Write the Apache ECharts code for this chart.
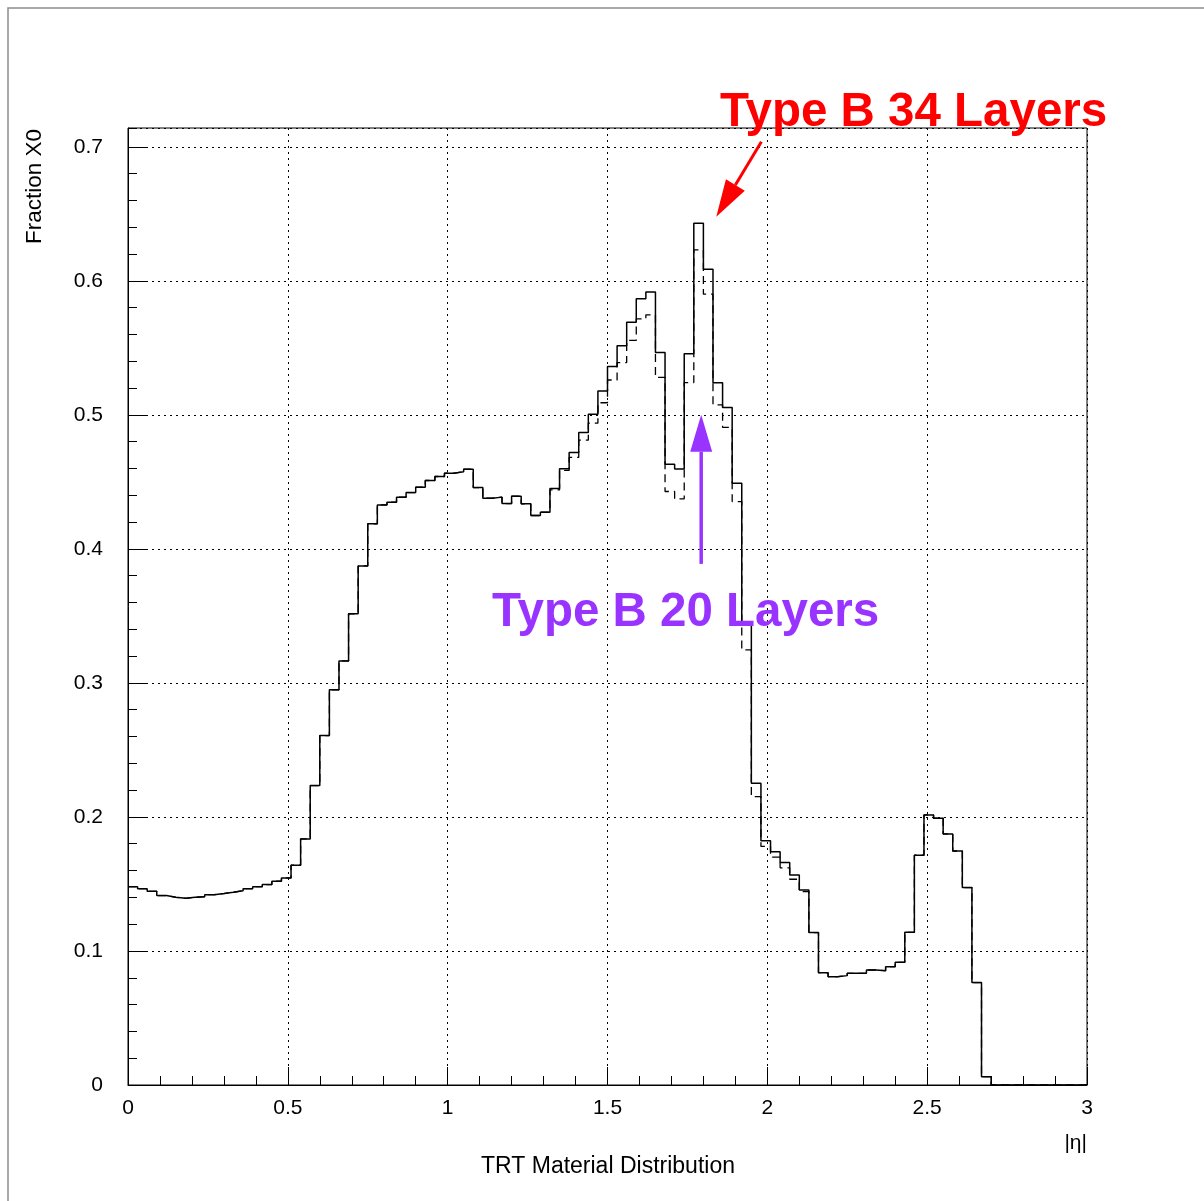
<!DOCTYPE html>
<html>
<head>
<meta charset="utf-8">
<title>TRT Material Distribution</title>
<script src="https://cdn.jsdelivr.net/npm/echarts@6/dist/echarts.min.js"></script>
<style>
  html, body { margin: 0; padding: 0; background: #ffffff; }
  #chart { width: 1204px; height: 1201px; }
</style>
</head>
<body>
<div id="chart"></div>
<script>
// Histogram binning in |eta|: 100 bins of 0.03 from 0 to 3
const BIN_WIDTH = 0.03;
const ETA_MIN = 0;
const ETA_MAX = 3;

// Fraction of X0 per bin, Type B with 34 straw layers (solid)
const layers34 = [
  0.148, 0.1465, 0.1445, 0.1413, 0.140, 0.1393, 0.140, 0.1405, 0.142, 0.1428,
  0.1438, 0.145, 0.1465, 0.148, 0.1495, 0.152, 0.1545, 0.164, 0.1836, 0.2234,
  0.2607, 0.2948, 0.3164, 0.3515, 0.3873, 0.4187, 0.4328, 0.4348, 0.4386, 0.442,
  0.446, 0.451, 0.454, 0.4565, 0.4575, 0.4594, 0.4457, 0.4378, 0.4386, 0.4338,
  0.4393, 0.4336, 0.4249, 0.4274, 0.445, 0.4597, 0.4719, 0.4868, 0.5005, 0.5177,
  0.536, 0.5515, 0.569, 0.5866, 0.5916, 0.5465, 0.4632, 0.4595, 0.5455, 0.643,
  0.6087, 0.524, 0.5055, 0.449, 0.3433, 0.2251, 0.1823, 0.1740, 0.166, 0.1567,
  0.1455, 0.1137, 0.0838, 0.0808, 0.0816, 0.0833, 0.0833, 0.0858, 0.0853, 0.0883,
  0.0915, 0.1139, 0.1714, 0.2015, 0.199, 0.1873, 0.1746, 0.1473, 0.0764, 0.0062,
  0, 0, 0, 0, 0, 0, 0, 0, 0, 0
];

// Fraction of X0 per bin, Type B with 20 straw layers (dashed)
const layers20 = [
  0.148, 0.1465, 0.1445, 0.1413, 0.140, 0.1393, 0.140, 0.1405, 0.142, 0.1428,
  0.1438, 0.145, 0.1465, 0.148, 0.1495, 0.152, 0.1545, 0.164, 0.1836, 0.2234,
  0.2607, 0.2948, 0.3164, 0.3515, 0.3873, 0.4187, 0.4328, 0.4348, 0.4386, 0.442,
  0.446, 0.451, 0.454, 0.4565, 0.4575, 0.4594, 0.4457, 0.4378, 0.4386, 0.4338,
  0.4393, 0.4336, 0.4249, 0.4274, 0.444, 0.4585, 0.4682, 0.4811, 0.4938, 0.509,
  0.526, 0.539, 0.5555, 0.5716, 0.5746, 0.528, 0.4428, 0.4373, 0.5241, 0.6231,
  0.590, 0.5075, 0.4906, 0.4353, 0.3246, 0.2152, 0.178, 0.170, 0.162, 0.1535,
  0.1443, 0.1137, 0.0838, 0.0808, 0.0816, 0.0833, 0.0833, 0.0858, 0.0853, 0.0883,
  0.0915, 0.1139, 0.1714, 0.2015, 0.199, 0.1873, 0.1746, 0.1473, 0.0764, 0.0062,
  0, 0, 0, 0, 0, 0, 0, 0, 0, 0
];

const Y_MAX = 0.714;
const FONT = '"Liberation Sans", Arial, Helvetica, sans-serif';

// Step-line points: one point at each bin's low edge plus the closing upper edge
function histPoints(values) {
  const pts = values.map((v, k) => [+(ETA_MIN + k * BIN_WIDTH).toFixed(4), v]);
  pts.push([ETA_MAX, values[values.length - 1]]);
  return pts;
}

const chart = echarts.init(document.getElementById('chart'), null, { renderer: 'canvas' });

const dotted = { color: '#000', width: 1, type: [2, 4] };

chart.setOption({
  animation: false,
  backgroundColor: '#ffffff',
  grid: {
    left: 128, top: 128, width: 959, height: 957,
    show: true, borderColor: '#000', borderWidth: 1, backgroundColor: 'transparent'
  },
  xAxis: [{
    type: 'value', min: ETA_MIN, max: ETA_MAX, interval: 0.5,
    axisLine: { show: true, lineStyle: { color: '#000', width: 1 } },
    axisTick: { show: true, inside: true, length: 18, lineStyle: { color: '#000' } },
    minorTick: { show: true, splitNumber: 5, length: 9, lineStyle: { color: '#000' } },
    splitLine: { show: true, lineStyle: dotted },
    axisLabel: { show: true, margin: 13, color: '#000', fontSize: 21, fontFamily: FONT }
  }],
  yAxis: [{
    type: 'value', min: 0, max: Y_MAX, interval: 0.1,
    axisLine: { show: true, lineStyle: { color: '#000', width: 1 } },
    axisTick: { show: true, inside: true, length: 18, lineStyle: { color: '#000' } },
    splitLine: { show: true, lineStyle: dotted },
    axisLabel: {
      show: true, margin: 25, color: '#000', fontSize: 21, fontFamily: FONT,
      showMaxLabel: false,
      formatter: v => (v === 0 ? '0' : v.toFixed(1))
    }
  }, {
    // secondary ticks every 0.02
    type: 'value', min: 0, max: Y_MAX, interval: 0.02, position: 'left', offset: 0,
    axisLine: { show: false },
    axisTick: { show: true, inside: true, length: 9, lineStyle: { color: '#000' } },
    splitLine: { show: false },
    axisLabel: { show: false }
  }],
  series: [{
    name: 'Type B 20 Layers',
    type: 'line', step: 'end', xAxisIndex: 0, yAxisIndex: 0,
    data: histPoints(layers20),
    showSymbol: false, z: 2,
    lineStyle: { color: '#000', width: 1.3, type: [8, 5] }
  }, {
    name: 'Type B 34 Layers',
    type: 'line', step: 'end', xAxisIndex: 0, yAxisIndex: 0,
    data: histPoints(layers34),
    showSymbol: false, z: 3,
    lineStyle: { color: '#000', width: 1.5 }
  }]
});

// Annotations anchored in (|eta|, X0) coordinates
const RED = '#ff0000';
const PURPLE = '#9933ff';
const px = (x, y) => chart.convertToPixel({ xAxisIndex: 0, yAxisIndex: 0 }, [x, y]);

function arrow(from, to, color, width) {
  const a = px(from[0], from[1]);
  const b = px(to[0], to[1]);
  const dx = b[0] - a[0], dy = b[1] - a[1];
  const len = Math.hypot(dx, dy);
  const ux = dx / len, uy = dy / len;
  const headLen = 37, headHalf = 11;
  const base = [b[0] - ux * headLen, b[1] - uy * headLen];
  return [{
    type: 'line', silent: true, z: 20,
    shape: { x1: a[0], y1: a[1], x2: base[0], y2: base[1] },
    style: { stroke: color, lineWidth: width }
  }, {
    type: 'polygon', silent: true, z: 20,
    shape: { points: [b, [base[0] - uy * headHalf, base[1] + ux * headHalf], [base[0] + uy * headHalf, base[1] - ux * headHalf]] },
    style: { fill: color }
  }];
}

const red1 = px(1.852, 0.7142);
const pur1 = px(1.1387, 0.341);

chart.setOption({
  graphic: [
    // outer pad frame
    { type: 'rect', silent: true, z: 0, shape: { x: 8, y: 8, width: 1220, height: 1220 },
      style: { fill: 'none', stroke: '#8c8c8c', lineWidth: 1.5 } },
    // axis titles
    { type: 'text', silent: true, z: 10, x: 35, y: 129, rotation: Math.PI / 2,
      style: { text: 'Fraction X0', font: '22.5px ' + FONT, fill: '#000', align: 'right', verticalAlign: 'middle' } },
    { type: 'text', silent: true, z: 10, x: 1087, y: 1143,
      style: { text: '|η|', font: '21px ' + FONT, fill: '#000', align: 'right', verticalAlign: 'middle' } },
    { type: 'text', silent: true, z: 10, x: 608, y: 1167,
      style: { text: 'TRT Material Distribution', font: '23px ' + FONT, fill: '#000', align: 'center', verticalAlign: 'middle' } },
    // layer labels
    { type: 'text', silent: true, z: 20, x: red1[0], y: red1[1] - 15,
      style: { text: 'Type B 34 Layers', font: 'bold 47.5px ' + FONT, fill: RED, align: 'left', verticalAlign: 'middle' } },
    { type: 'text', silent: true, z: 20, x: pur1[0], y: pur1[1] - 15,
      style: { text: 'Type B 20 Layers', font: 'bold 47.5px ' + FONT, fill: PURPLE, align: 'left', verticalAlign: 'middle' } },
    ...arrow([1.9814, 0.7037], [1.8403, 0.6478], RED, 3),
    ...arrow([1.7931, 0.3888], [1.7931, 0.5], PURPLE, 3.5)
  ]
});
</script>
</body>
</html>
